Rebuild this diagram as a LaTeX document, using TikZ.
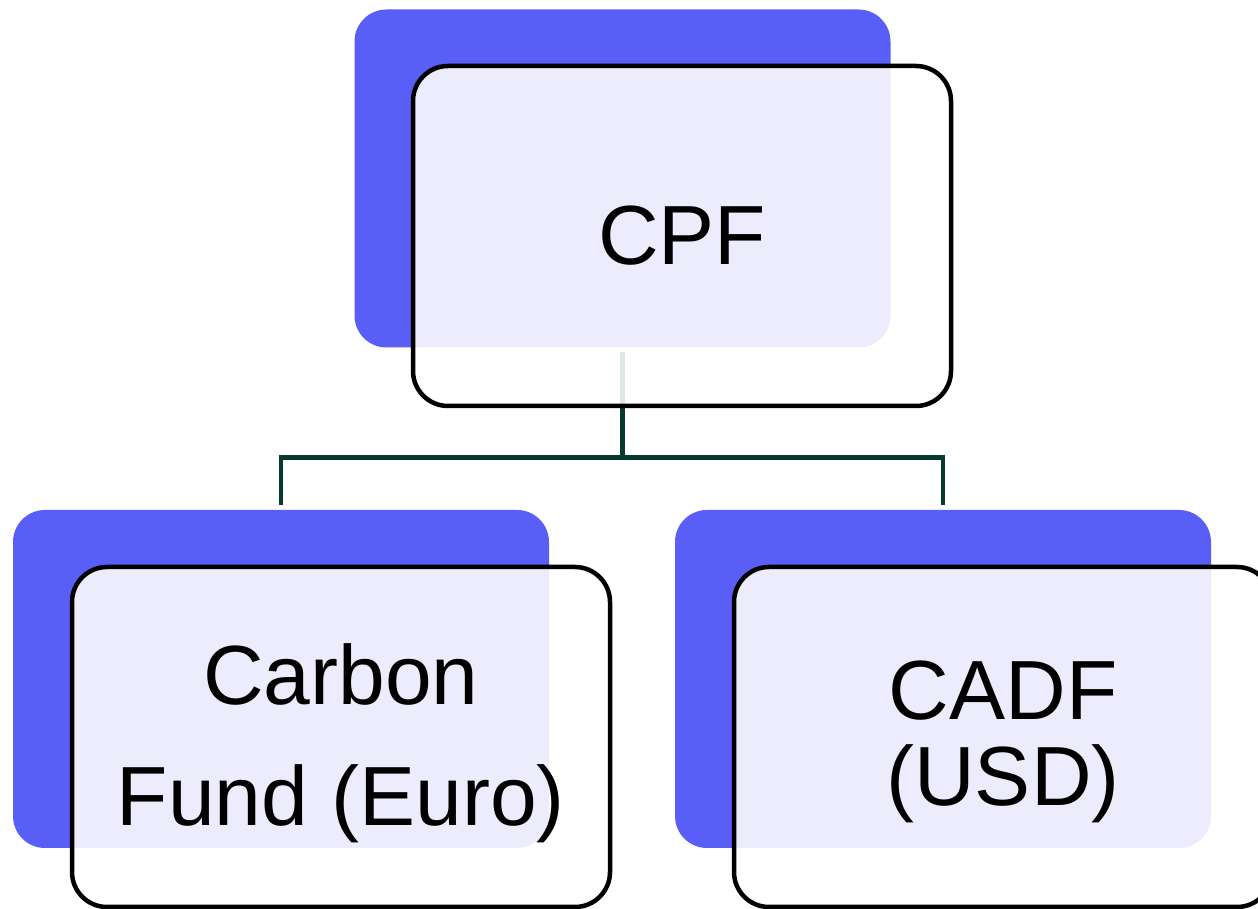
\documentclass[tikz,border=0pt]{standalone}
\usepackage{fontspec}
\setmainfont{Liberation Sans}
\usetikzlibrary{calc}
\definecolor{backblue}{RGB}{88,94,246}
\definecolor{conngreen}{RGB}{6,58,46}
\tikzset{
  backbox/.style={rectangle, rounded corners=32pt, fill=backblue, draw=none,
    minimum width=536pt, minimum height=338pt, inner sep=0pt, outer sep=0pt},
  frontbox/.style={rectangle, rounded corners=35pt, draw=black, line width=4.5pt,
    fill=white, fill opacity=0.885, minimum width=538pt, minimum height=340pt,
    inner sep=0pt, outer sep=0pt},
  conn/.style={draw=conngreen, line width=4.5pt, line join=miter},
  lbl/.style={font=\fontsize{84}{100}\selectfont, text=black, inner sep=0pt, anchor=base},
}
\begin{document}
\begin{tikzpicture}[x=1pt,y=1pt]
\useasboundingbox (0,0) rectangle (1258,909);
% back boxes
\node[backbox] (cpfb) at (622.5,730.5) {};
\node[backbox] (cfb) at (281,230) {};
\node[backbox] (cadfb) at (943,230) {};
% connectors
\coordinate (j) at ($(cpfb.south)+(0,-110)$);
\draw[conn] ($(cpfb.south)+(0,-5)$) -- (j);
\draw[conn] ($(cfb.north)+(0,5)$) |- (j) -| ($(cadfb.north)+(0,5)$);
% front boxes
\node[frontbox] (cpf) at (682,673) {};
\node[frontbox] (cf) at (341,172) {};
\node[frontbox] (cadf) at (1003,172) {};
% labels
\node[lbl] (cpft) at ($(cpf.center)+(0,-29)$) {CPF};
\node[lbl] (cft1) at ($(cf.center)+(0,32)$) {Carbon};
\node[lbl] (cft2) at ($(cf.center)+(0,-89)$) {Fund (Euro)};
\node[lbl] (cadft1) at ($(cadf.center)+(0,17)$) {CADF};
\node[lbl] (cadft2) at ($(cadf.center)+(0,-69)$) {(USD)};
\end{tikzpicture}
\end{document}
